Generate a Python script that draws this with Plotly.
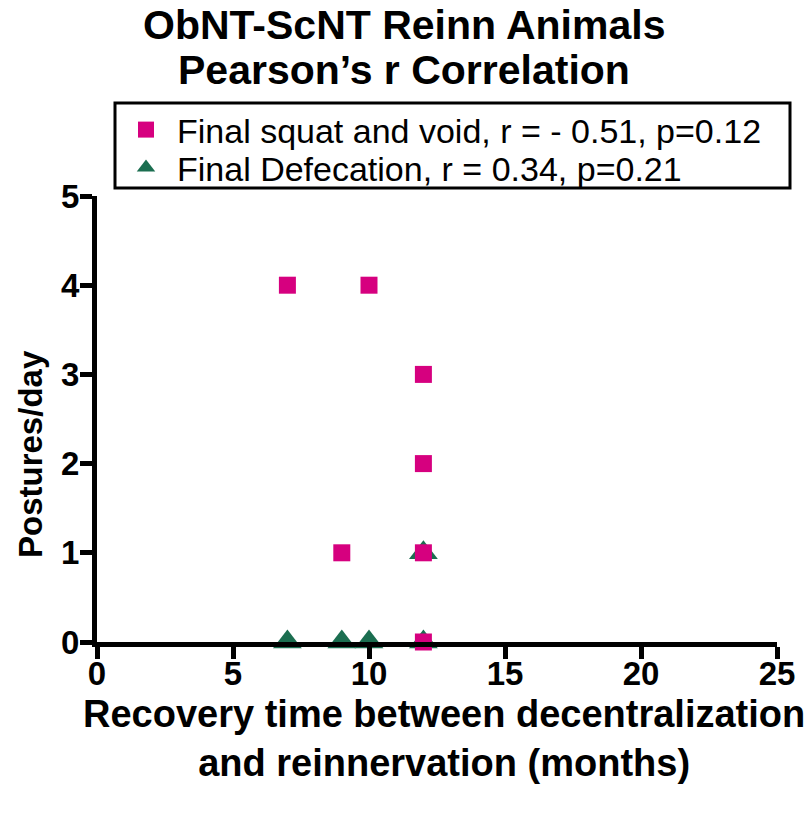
import plotly.graph_objects as go

sq_x = [7, 10, 12, 12, 9, 12, 12]
sq_y = [4, 4, 3, 2, 1, 1, 0]
tri_x = [7, 9, 10, 12, 12]
tri_y = [0, 0, 0, 0, 1]
sq_name = "Final squat and void, r = - 0.51, p=0.12"
tri_name = "Final Defecation, r = 0.34, p=0.21"
title_lines = ["ObNT-ScNT Reinn Animals", "Pearson’s r Correlation"]
xtitle_lines = ["Recovery time between decentralization", "and reinnervation (months)"]
ytitle = "Postures/day"
x_ticks = [0, 5, 10, 15, 20, 25]
y_ticks = [0, 1, 2, 3, 4, 5]

PINK = "#D6007F"
GREEN = "#1B6E50"
FONT = "Liberation Sans, Arial, sans-serif"

W, H = 810, 822
L, R, T, B = 97, 33, 196, 180
PW, PH = W - L - R, H - T - B


def px(xp):
    return (xp - L) / PW


def py(yp):
    return (H - B - yp) / PH


fig = go.Figure()
fig.add_trace(go.Scatter(x=tri_x, y=tri_y, mode="markers", name=tri_name,
                         marker=dict(symbol="triangle-up", size=25, color=GREEN),
                         cliponaxis=False, legend="legend2"))
fig.add_trace(go.Scatter(x=sq_x, y=sq_y, mode="markers", name=sq_name,
                         marker=dict(symbol="square", size=17, color=PINK),
                         cliponaxis=False, legend="legend"))

axis_common = dict(showline=True, linewidth=5, linecolor="black", ticks="outside",
                   ticklen=12, tickwidth=5, tickcolor="black", showgrid=False,
                   zeroline=False,
                   tickfont=dict(family=FONT, size=33, color="black", weight="bold"))

annotations = []
for txt, yy in zip(title_lines, [25, 70]):
    annotations.append(dict(text=f"<b>{txt}</b>", xref="paper", yref="paper",
                            x=px(404), y=py(yy), xanchor="center", yanchor="middle",
                            showarrow=False, font=dict(family=FONT, size=41, color="black")))
annotations.append(dict(text="<b>" + "<br>".join(xtitle_lines) + "</b>",
                        xref="paper", yref="paper",
                        x=px(444), y=py(738), xanchor="center", yanchor="middle",
                        showarrow=False, font=dict(family=FONT, size=38, color="black")))
annotations.append(dict(text=f"<b>{ytitle}</b>", xref="paper", yref="paper",
                        x=px(30), y=py(454), xanchor="center", yanchor="middle",
                        textangle=-90, showarrow=False,
                        font=dict(family=FONT, size=33, color="black")))

legend_style = dict(xanchor="left", yanchor="middle", borderwidth=0,
                    bgcolor="rgba(0,0,0,0)", itemwidth=52,
                    font=dict(family=FONT, size=34, color="black"),
                    itemsizing="trace")

fig.update_layout(
    width=W, height=H,
    margin=dict(l=L, r=R, t=T, b=B),
    paper_bgcolor="white", plot_bgcolor="white",
    font=dict(family=FONT, color="black"),
    xaxis=dict(range=[0, 25], tickvals=x_ticks, ticklabelstandoff=-14, **axis_common),
    yaxis=dict(range=[0, 5], tickvals=y_ticks, ticklabelstandoff=-6, **axis_common),
    annotations=annotations,
    showlegend=True,
    legend=dict(x=px(115), y=py(130), **legend_style),
    legend2=dict(x=px(115), y=py(168), **legend_style),
    shapes=[dict(type="rect", xref="paper", yref="paper",
                 x0=px(115), x1=px(790), y0=py(188), y1=py(103),
                 line=dict(color="black", width=3), fillcolor="rgba(0,0,0,0)")],
)

fig.write_html("out.html", config={"displayModeBar": False},
               post_script="document.body.style.margin='0';document.body.style.padding='0';")
